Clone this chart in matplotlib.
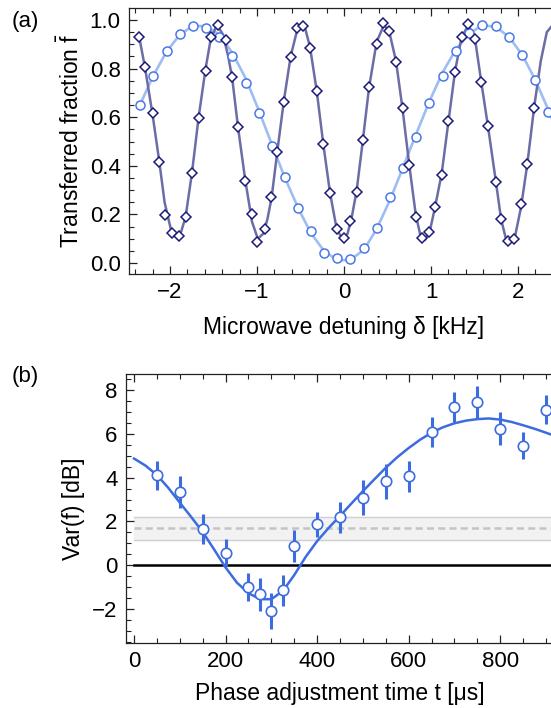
import matplotlib.pyplot as plt
import numpy as np
from matplotlib.ticker import MultipleLocator

plt.rcParams['font.family'] = ['Liberation Sans', 'DejaVu Sans']
plt.rcParams['mathtext.fontset'] = 'custom'
plt.rcParams['mathtext.rm'] = 'Liberation Sans'
plt.rcParams['font.size'] = 16

# panel (a): diamonds (fast fringe) and circles (slow fringe)
dia_x = [-2.353, -2.284, -2.199, -2.123, -2.061, -1.981, -1.897, -1.820, -1.747, -1.670,
         -1.590, -1.532, -1.445, -1.360, -1.284, -1.218, -1.138, -1.057, -0.996, -0.908,
         -0.835, -0.766, -0.690, -0.613, -0.544, -0.467, -0.391, -0.314, -0.238, -0.161,
         -0.084, 0.000, 0.069, 0.146, 0.215, 0.287, 0.375, 0.452, 0.521, 0.598,
         0.674, 0.751, 0.824, 0.900, 0.977, 1.046, 1.123, 1.199, 1.276, 1.352,
         1.429, 1.506, 1.575, 1.659, 1.743, 1.805, 1.881, 1.958, 2.034, 2.107, 2.184]
dia_y = [0.931, 0.808, 0.619, 0.417, 0.198, 0.122, 0.111, 0.188, 0.372, 0.595,
         0.791, 0.931, 0.979, 0.918, 0.767, 0.561, 0.337, 0.202, 0.085, 0.139,
         0.273, 0.458, 0.661, 0.846, 0.966, 0.975, 0.883, 0.709, 0.490, 0.287,
         0.139, 0.102, 0.174, 0.291, 0.506, 0.726, 0.901, 0.986, 0.955, 0.828,
         0.637, 0.403, 0.188, 0.104, 0.129, 0.229, 0.362, 0.584, 0.787, 0.931,
         0.982, 0.920, 0.746, 0.564, 0.335, 0.180, 0.092, 0.099, 0.242, 0.407, 0.637]

dfit_x = [-2.353, -2.284, -2.199, -2.123, -2.061, -1.990, -1.930, -1.870, -1.820, -1.747,
          -1.670, -1.590, -1.532, -1.460, -1.390, -1.330, -1.284, -1.218, -1.138, -1.057,
          -0.990, -0.930, -0.880, -0.831, -0.766, -0.690, -0.613, -0.544, -0.500, -0.450,
          -0.391, -0.314, -0.238, -0.161, -0.084, -0.020, 0.040, 0.090, 0.146, 0.215,
          0.287, 0.375, 0.460, 0.521, 0.598, 0.674, 0.751, 0.824, 0.880, 0.930,
          0.985, 1.046, 1.123, 1.199, 1.276, 1.352, 1.430, 1.506, 1.575, 1.659,
          1.743, 1.805, 1.860, 1.915, 1.965, 2.034, 2.107, 2.184, 2.260, 2.330, 2.400, 2.470]
dfit_y = [0.93, 0.80, 0.61, 0.42, 0.25, 0.14, 0.11, 0.13, 0.19, 0.37,
          0.60, 0.80, 0.92, 0.98, 0.94, 0.85, 0.76, 0.56, 0.35, 0.17,
          0.10, 0.12, 0.18, 0.27, 0.46, 0.67, 0.85, 0.95, 0.98, 0.97,
          0.89, 0.71, 0.49, 0.29, 0.14, 0.10, 0.12, 0.19, 0.30, 0.50,
          0.72, 0.91, 0.98, 0.95, 0.83, 0.63, 0.40, 0.20, 0.11, 0.095,
          0.13, 0.23, 0.37, 0.58, 0.79, 0.93, 0.98, 0.92, 0.75, 0.55,
          0.34, 0.18, 0.10, 0.09, 0.11, 0.23, 0.41, 0.64, 0.83, 0.95, 0.98, 0.94]

cir_x = [-2.345, -2.192, -2.038, -1.885, -1.739, -1.586, -1.433, -1.284, -1.130, -0.981,
         -0.831, -0.678, -0.525, -0.383, -0.230, -0.077, 0.069, 0.230, 0.375, 0.529,
         0.674, 0.828, 0.981, 1.134, 1.287, 1.441, 1.590, 1.743, 1.897, 2.050, 2.195, 2.348]
cir_y = [0.650, 0.770, 0.874, 0.941, 0.975, 0.968, 0.931, 0.852, 0.742, 0.619,
         0.481, 0.353, 0.225, 0.133, 0.042, 0.019, 0.015, 0.060, 0.145, 0.273,
         0.390, 0.520, 0.660, 0.770, 0.874, 0.948, 0.979, 0.975, 0.931, 0.856, 0.753, 0.623]

cfit_x = [-2.345, -2.192, -2.038, -1.885, -1.739, -1.586, -1.433, -1.284, -1.130, -0.981,
          -0.831, -0.678, -0.525, -0.383, -0.230, -0.077, 0.069, 0.230, 0.375, 0.529,
          0.674, 0.828, 0.981, 1.134, 1.287, 1.441, 1.590, 1.743, 1.897, 2.050, 2.195, 2.348, 2.470]
cfit_y = [0.65, 0.77, 0.87, 0.94, 0.975, 0.975, 0.94, 0.865, 0.76, 0.63,
          0.49, 0.35, 0.225, 0.125, 0.05, 0.012, 0.012, 0.055, 0.14, 0.26,
          0.39, 0.53, 0.665, 0.785, 0.88, 0.945, 0.978, 0.972, 0.93, 0.855, 0.755, 0.63, 0.52]

# panel (b): variance vs phase adjustment time
t = [50, 100, 150, 200, 250, 275, 300, 325, 350, 400, 450, 500, 550, 600, 650, 700, 750, 800, 850, 900]
var = [4.10, 3.33, 1.66, 0.58, -1.00, -1.32, -2.09, -1.14, 0.87, 1.87,
       2.18, 3.09, 3.84, 4.06, 6.09, 7.23, 7.43, 6.24, 5.46, 7.10]
var_err = [0.68, 0.73, 0.67, 0.62, 0.65, 0.75, 0.82, 0.71, 0.72, 0.58,
           0.69, 0.78, 0.80, 0.71, 0.68, 0.68, 0.74, 0.75, 0.63, 0.66]

tfit = [0, 25, 50, 75, 100, 125, 150, 175, 200, 225, 250, 275, 300, 325, 350, 375, 400,
        425, 450, 475, 500, 525, 550, 575, 600, 625, 650, 675, 700, 725, 750, 775, 800,
        825, 850, 875, 900, 920]
varfit = [4.87, 4.55, 4.12, 3.53, 2.86, 2.20, 1.52, 0.72, -0.10, -0.80, -1.27, -1.55, -1.55,
          -1.18, -0.45, 0.38, 1.10, 1.70, 2.25, 2.82, 3.38, 3.92, 4.45, 4.93, 5.35, 5.73,
          6.05, 6.30, 6.48, 6.60, 6.67, 6.70, 6.65, 6.54, 6.39, 6.23, 6.05, 5.90]

ref_level = 1.70
ref_lo, ref_hi = 1.17, 2.18

fig = plt.figure(figsize=(5.51, 7.08), dpi=100)

ax1 = fig.add_axes([129/551, 1-274/708, 430/551, 265.7/708])
ax1.plot(cfit_x, cfit_y, color='#9dbdf3', lw=1.9, zorder=2)
ax1.plot(dfit_x, dfit_y, color='#6c6ca6', lw=1.8, zorder=3)
ax1.plot(cir_x, cir_y, 'o', ms=6.5, mfc='white', mec='#4a78e6', mew=1.1, zorder=4)
ax1.plot(dia_x, dia_y, 'D', ms=5.3, mfc='white', mec='#1c1c78', mew=1.1, zorder=5)
ax1.set_xlim(-2.47, 2.47)
ax1.set_ylim(-0.045, 1.048)
ax1.xaxis.set_major_locator(MultipleLocator(1))
ax1.xaxis.set_minor_locator(MultipleLocator(0.2))
ax1.yaxis.set_major_locator(MultipleLocator(0.2))
ax1.yaxis.set_minor_locator(MultipleLocator(0.05))
ax1.yaxis.set_major_formatter(plt.FormatStrFormatter('%.1f'))
ax1.set_xlabel('Microwave detuning δ [kHz]', fontsize=16.5, labelpad=9)
ax1.set_ylabel(r'Transferred fraction $\bar{\mathrm{f}}$', fontsize=16.5, labelpad=4)

ax2 = fig.add_axes([126/551, 1-643/708, 428/551, 269/708])
ax2.axhspan(ref_lo, ref_hi, xmin=17.5/935, color='#f2f2f2', zorder=1)
ax2.plot([0, 1000], [ref_lo, ref_lo], color='#d0d0d0', lw=1, zorder=1)
ax2.plot([0, 1000], [ref_hi, ref_hi], color='#d0d0d0', lw=1, zorder=1)
ax2.plot([0, 1000], [ref_level, ref_level], color='#c4c4c4', lw=1.8, dashes=(2.8, 1.7), zorder=2)
ax2.plot([0, 1000], [0, 0], color='black', lw=1.8, zorder=2)
ax2.plot(tfit, varfit, color='#3d6be0', lw=1.8, zorder=3)
ax2.errorbar(t, var, yerr=var_err, fmt='o', ms=7.5, mfc='white', mec='#3d6be0', mew=1.2,
             ecolor='#3d6be0', elinewidth=2.2, capsize=0, zorder=4)
ax2.set_xlim(-17.5, 917.5)
ax2.set_ylim(-3.55, 8.73)
ax2.xaxis.set_major_locator(MultipleLocator(200))
ax2.xaxis.set_minor_locator(MultipleLocator(50))
ax2.yaxis.set_major_locator(MultipleLocator(2))
ax2.yaxis.set_minor_locator(MultipleLocator(0.5))
ax2.set_xlabel('Phase adjustment time t [μs]', fontsize=16.5, labelpad=7)
ax2.set_ylabel('Var(f) [dB]', fontsize=16.5, labelpad=5)

for ax in (ax1, ax2):
    ax.tick_params(which='both', direction='in', top=True, right=False, colors='#222222',
                   labelcolor='black', labelsize=16)
    ax.tick_params(which='major', length=6, width=0.9, pad=6)
    ax.tick_params(which='minor', length=3.5, width=0.8)
    for s in ax.spines.values():
        s.set_color('#222222')
        s.set_linewidth(0.9)

fig.text(25/551, 1-22/708, '(a)', ha='center', va='center', fontsize=16)
fig.text(25/551, 1-377/708, '(b)', ha='center', va='center', fontsize=16)

plt.savefig('out.png', dpi=100)
